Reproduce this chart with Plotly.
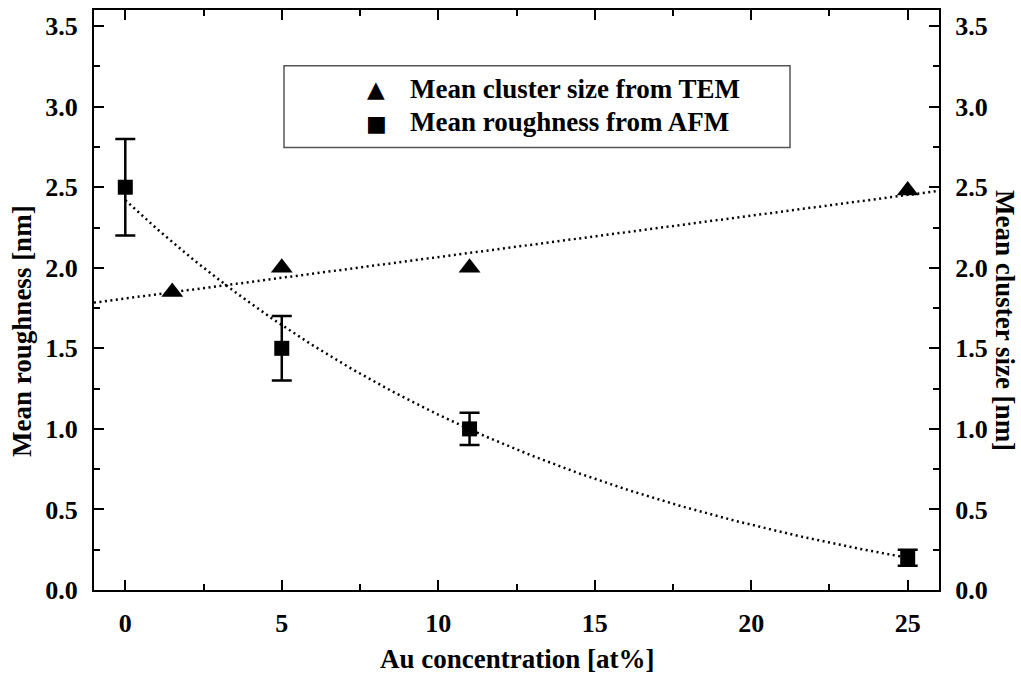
import numpy as np
import plotly.graph_objects as go

# Au concentration [at%] and measurements
tem_conc = [1.5, 5, 11, 25]
tem_cluster_size = [1.85, 2.0, 2.0, 2.48]

afm_conc = [0, 5, 11, 25]
afm_roughness = [2.5, 1.5, 1.0, 0.2]
afm_roughness_err = [0.3, 0.2, 0.1, 0.05]

# Exponential decay fit of the roughness: y = y0 + A*exp(-x/t)
exp_y0, exp_A, exp_t = -0.317, 2.737, 15.0

x_ticks = [0, 5, 10, 15, 20, 25]
y_ticks = [0.0, 0.5, 1.0, 1.5, 2.0, 2.5, 3.0, 3.5]

X_RANGE = [-1, 26]
Y_RANGE = [0, 3.6]

FONT = "Liberation Serif"

# Linear fit of the cluster size across the whole x range
slope, intercept = np.polyfit(tem_conc, tem_cluster_size, 1)
lin_x = np.linspace(X_RANGE[0], X_RANGE[1], 100)
lin_y = intercept + slope * lin_x

exp_x = np.linspace(afm_conc[0], afm_conc[-1], 200)
exp_y = exp_y0 + exp_A * np.exp(-exp_x / exp_t)

dotted = dict(color="black", width=2.5, dash="2px,3.5px")

fig = go.Figure()
fig.add_trace(go.Scatter(x=lin_x, y=lin_y, mode="lines", line=dotted,
                         yaxis="y2", showlegend=False, hoverinfo="skip"))
fig.add_trace(go.Scatter(x=exp_x, y=exp_y, mode="lines", line=dotted,
                         showlegend=False, hoverinfo="skip"))
fig.add_trace(go.Scatter(
    x=afm_conc, y=afm_roughness, mode="markers", name="Mean roughness from AFM",
    marker=dict(symbol="square", size=15, color="black"),
    error_y=dict(type="data", array=afm_roughness_err, visible=True,
                 color="black", thickness=2.5, width=10),
    showlegend=False))
fig.add_trace(go.Scatter(
    x=tem_conc, y=tem_cluster_size, mode="markers", name="Mean cluster size from TEM",
    marker=dict(symbol="triangle-up", size=19, color="black"),
    yaxis="y2", showlegend=False))

axis_common = dict(
    showline=True, linecolor="black", linewidth=2,
    ticks="inside", ticklen=10, tickwidth=2, tickcolor="black",
    showgrid=False, zeroline=False,
    tickfont=dict(family=FONT, size=26, color="black", weight="bold"),
    ticklabelstandoff=9,
)

fig.update_layout(
    width=1021, height=675,
    margin=dict(l=94, r=82, t=8, b=85),
    paper_bgcolor="white", plot_bgcolor="white",
    font=dict(family=FONT, size=26, color="black", weight="bold"),
    xaxis=dict(range=X_RANGE, tickvals=x_ticks, mirror="ticks",
               minor=dict(tickvals=[2.5, 7.5, 12.5, 17.5, 22.5], ticklen=6,
                          tickwidth=2, tickcolor="black", ticks="inside"),
               **axis_common),
    yaxis=dict(range=Y_RANGE, tickvals=y_ticks, tickformat=".1f",
               minor=dict(dtick=0.25, ticklen=6, tickwidth=2,
                          tickcolor="black", ticks="inside"),
               **axis_common),
    yaxis2=dict(range=Y_RANGE, tickvals=y_ticks, tickformat=".1f",
                overlaying="y", side="right",
                minor=dict(dtick=0.25, ticklen=6, tickwidth=2,
                           tickcolor="black", ticks="inside"),
                **axis_common),
    showlegend=False,
)

# Plot-area geometry in pixels, used to place titles and the legend box
L, R, T, B = 94, 1021 - 82, 8, 675 - 85
pw, ph = R - L, B - T


def px(x):
    return (x - L) / pw


def py(y):
    return (B - y) / ph


title_font = dict(family=FONT, size=27, color="black", weight="bold")
fig.add_annotation(text="Au concentration [at%]", xref="paper", yref="paper",
                   x=0.5, y=py(659), xanchor="center", yanchor="middle",
                   showarrow=False, font=title_font)
fig.add_annotation(text="Mean roughness [nm]", xref="paper", yref="paper",
                   x=px(22), y=py(330), xanchor="center", yanchor="middle",
                   textangle=-90, showarrow=False, font=title_font)
fig.add_annotation(text="Mean cluster size [nm]", xref="paper", yref="paper",
                   x=px(1005), y=py(320), xanchor="center", yanchor="middle",
                   textangle=90, showarrow=False, font=title_font)

# Legend
fig.add_shape(type="rect", xref="paper", yref="paper",
              x0=px(284), x1=px(790), y0=py(146), y1=py(64),
              line=dict(color="#555555", width=1.5), fillcolor="white", layer="below")
legend_rows = [("▲", "Mean cluster size from TEM", 87, 87, 23),
               ("■", "Mean roughness from AFM", 120, 122, 22)]
for sym, label, ty, sy, ssize in legend_rows:
    fig.add_annotation(text=sym, xref="paper", yref="paper", x=px(376), y=py(sy),
                       xanchor="center", yanchor="middle", showarrow=False,
                       font=dict(family="DejaVu Sans", size=ssize, color="black"))
    fig.add_annotation(text=label, xref="paper", yref="paper", x=px(408), y=py(ty),
                       xanchor="left", yanchor="middle", showarrow=False,
                       font=title_font)

fig.write_html("out.html")
